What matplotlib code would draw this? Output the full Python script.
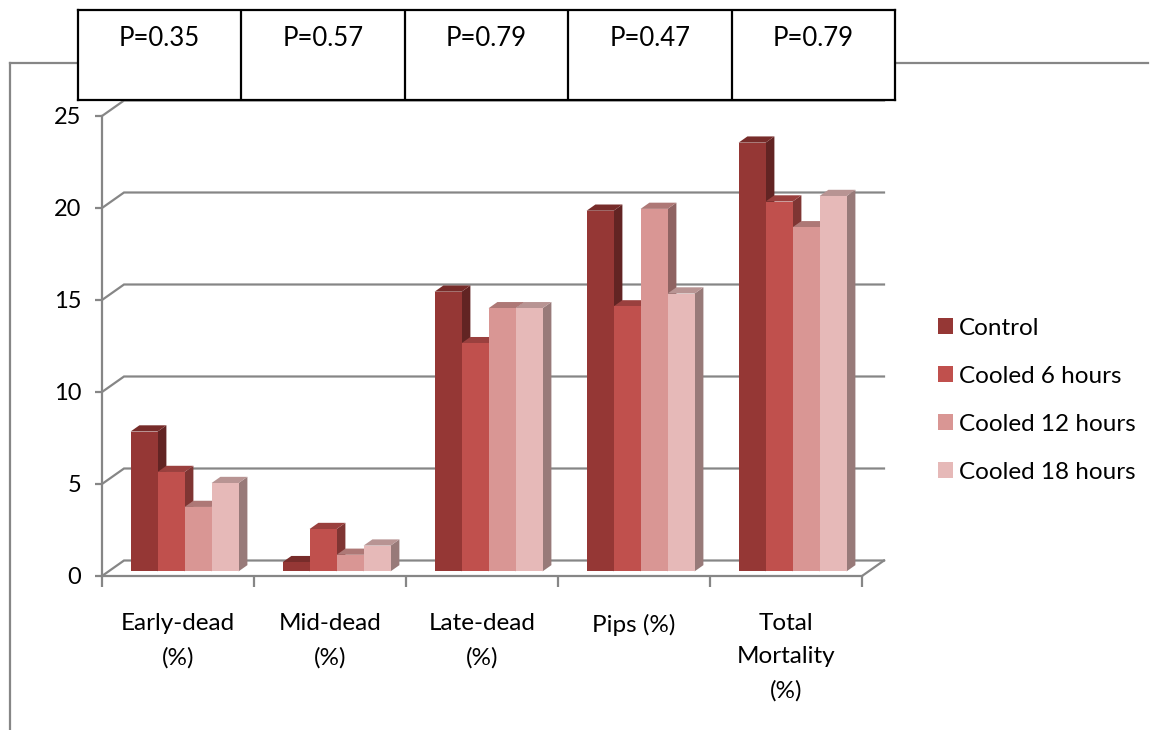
import numpy as np
import matplotlib
matplotlib.use("Agg")
import matplotlib.pyplot as plt
from matplotlib.patches import Polygon, Patch
from matplotlib.lines import Line2D
from matplotlib.colors import to_rgb


categories = ["Early-dead\n(%)", "Mid-dead\n(%)", "Late-dead\n(%)", "Pips (%)", "Total\nMortality\n(%)"]
series_names = ["Control", "Cooled 6 hours", "Cooled 12 hours", "Cooled 18 hours"]
control = [7.6, 0.5, 15.2, 19.6, 23.3]
cooled_6h = [5.4, 2.3, 12.4, 14.4, 20.1]
cooled_12h = [3.5, 0.9, 14.3, 19.7, 18.7]
cooled_18h = [4.8, 1.4, 14.3, 15.1, 20.4]
p_values = ["P=0.35", "P=0.57", "P=0.79", "P=0.47", "P=0.79"]
y_ticks = [0, 5, 10, 15, 20, 25]

COLORS = ["#953735", "#C0504D", "#D99694", "#E6B9B8"]
GRID = "#868686"
FONT = "Lato"

W, H = 1150, 730

# perspective offsets of the back wall and of the bars, in data units
WALL_DX = 22 / 152
WALL_DY = 15.5 / 18.4
BAR_W = 27 / 152
BAR_FRONT = 0.3
BAR_DEPTH = 0.4


def fx(px):
    return px / W


def fy(py):
    return 1 - py / H


def shade(color, k):
    r, g, b = to_rgb(color)
    return (r * k, g * k, b * k)


def draw_bar(ax, x0, value, color):
    y0 = BAR_FRONT * WALL_DY
    x0 = x0 + BAR_FRONT * WALL_DX
    sdx = BAR_DEPTH * WALL_DX
    sdy = BAR_DEPTH * WALL_DY
    side = [(x0 + BAR_W, y0), (x0 + BAR_W + sdx, y0 + sdy),
            (x0 + BAR_W + sdx, y0 + sdy + value), (x0 + BAR_W, y0 + value)]
    top = [(x0, y0 + value), (x0 + sdx, y0 + value + sdy),
           (x0 + BAR_W + sdx, y0 + value + sdy), (x0 + BAR_W, y0 + value)]
    ax.add_patch(Polygon(side, closed=True, facecolor=shade(color, 0.66),
                         edgecolor="none", clip_on=False, zorder=3))
    ax.add_patch(Polygon(top, closed=True, facecolor=shade(color, 0.8),
                         edgecolor="none", clip_on=False, zorder=3))
    ax.bar(x0, value, width=BAR_W, bottom=y0, align="edge", color=color,
           edgecolor="none", clip_on=False, zorder=3)


def draw_walls(ax, n):
    for v in y_ticks:
        ax.plot([0, WALL_DX, n + WALL_DX], [v, v + WALL_DY, v + WALL_DY],
                color=GRID, lw=1.6, clip_on=False, zorder=1,
                solid_joinstyle="miter")
    ax.plot([n, n + WALL_DX], [0, WALL_DY], color=GRID, lw=1.6,
            clip_on=False, zorder=1)


def main():
    plt.rcParams["font.family"] = [FONT, "DejaVu Sans"]
    fig = plt.figure(figsize=(W / 100, H / 100), dpi=100)

    ax = fig.add_axes([fx(102), fy(576), 760 / W, 460 / H])
    n = len(categories)
    ax.set_xlim(0, n)
    ax.set_ylim(0, 25)

    draw_walls(ax, n)

    data = [control, cooled_6h, cooled_12h, cooled_18h]
    group = BAR_W * len(data)
    for i in range(n):
        left = i + 0.5 - group / 2
        for j, vals in enumerate(data):
            draw_bar(ax, left + j * BAR_W, vals[i], COLORS[j])

    for side in ["top", "right"]:
        ax.spines[side].set_visible(False)
    for side in ["left", "bottom"]:
        ax.spines[side].set_color(GRID)
        ax.spines[side].set_linewidth(1.6)
        ax.spines[side].set_zorder(2)

    ax.set_yticks(y_ticks)
    ax.set_yticklabels([str(v) for v in y_ticks], fontsize=17)
    ax.tick_params(axis="y", length=5, width=1.6, color=GRID, pad=10)

    ax.set_xticks(range(n + 1))
    ax.set_xticklabels([])
    ax.set_xticks(np.arange(n) + 0.5, minor=True)
    ax.set_xticklabels(categories, minor=True, fontsize=17.5, linespacing=1.7)
    ax.tick_params(axis="x", which="major", length=8, width=1.6, color=GRID)
    ax.tick_params(axis="x", which="minor", length=0, pad=27)
    ax.set_facecolor("none")

    # chart area border
    fig.add_artist(Line2D([fx(10), fx(10)], [fy(63), 0], color=GRID, lw=1.6))
    fig.add_artist(Line2D([fx(10), fx(1148)], [fy(63), fy(63)], color=GRID, lw=1.6))

    # significance table above the columns
    tab = fig.add_axes([fx(78), fy(100), 817 / W, 90 / H], zorder=5)
    tab.set_xlim(0, n)
    tab.set_ylim(0, 1)
    tab.set_xticks([])
    tab.set_yticks([])
    for s in tab.spines.values():
        s.set_linewidth(1.6)
        s.set_color("black")
    for i in range(1, n):
        tab.axvline(i, color="black", lw=1.6)
    for i, p in enumerate(p_values):
        tab.text(i + 0.5, 0.68, p, ha="center", va="center", fontsize=18.5)

    handles = [Patch(facecolor=c, edgecolor="none") for c in COLORS]
    fig.legend(handles, series_names, loc="upper left",
               bbox_to_anchor=(fx(928), fy(308)), frameon=False, fontsize=17.5,
               handlelength=0.62, handleheight=0.62, handletextpad=0.25,
               labelspacing=1.11, borderaxespad=0)

    fig.savefig("out.png", dpi=100, facecolor="white")


if __name__ == "__main__":
    main()
